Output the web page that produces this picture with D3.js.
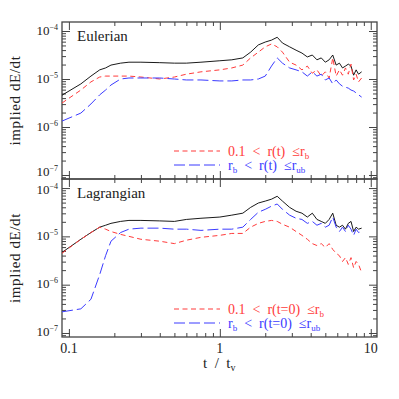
<!DOCTYPE html>
<html>
<head>
<meta charset="utf-8">
<script src="https://cdn.jsdelivr.net/npm/d3@7"></script>
<style>
  body { margin: 0; background: #fff; }
  text { font-family: "Liberation Serif", "DejaVu Serif", serif; white-space: pre; }
</style>
</head>
<body>
<div id="chart"></div>
<script>
// time in units of t_v
const times = [0.09, 0.12, 0.14, 0.16, 0.175, 0.19, 0.22, 0.25, 0.3, 0.4, 0.5, 0.6, 0.75,
  1.0, 1.2, 1.42, 1.6, 1.8, 2.0, 2.2, 2.4, 2.6, 2.9, 3.2, 3.5, 3.8, 4.1, 4.4, 4.7,
  5.0, 5.3, 5.6, 5.9, 6.2, 6.5, 6.8, 7.1, 7.4, 7.7, 8.0, 8.3, 8.7];

// Eulerian panel
const eulTotal = [4.6e-6, 7.9e-6, 1.15e-5, 1.55e-5, 1.7e-5, 1.95e-5, 2.14e-5, 2.24e-5, 2.24e-5, 2.19e-5, 2.14e-5, 2.14e-5, 2.24e-5,
  2.4e-5, 2.51e-5, 2.75e-5, 3.63e-5, 5.13e-5, 5.89e-5, 6.46e-5, 7.41e-5, 5.62e-5, 4.68e-5, 3.98e-5, 3.47e-5, 2.88e-5, 3.16e-5, 2.51e-5, 2.75e-5,
  2.24e-5, 2.51e-5, 3.16e-5, 1.95e-5, 2.14e-5, 1.7e-5, 1.86e-5, 2.04e-5, 1.86e-5, 1.2e-5, 1.55e-5, 1.26e-5, 1.41e-5];
const eulInner = [3.16e-6, 5.89e-6, 8.71e-6, 1.1e-5, 1.15e-5, 1.15e-5, 1.15e-5, 1.15e-5, 1.1e-5, 1.0e-5, 1.1e-5, 1.26e-5, 1.41e-5,
  1.55e-5, 1.7e-5, 1.95e-5, 2.75e-5, 3.63e-5, 4.68e-5, 5.37e-5, 4.68e-5, 3.63e-5, 2.24e-5, 1.95e-5, 1.55e-5, 1.86e-5, 1.32e-5, 1.55e-5, 1.15e-5,
  1.41e-5, 1.05e-5, 2.75e-5, 1.15e-5, 1.55e-5, 1.2e-5, 1.7e-5, 1.26e-5, 2.04e-5, 9.55e-6, 1.26e-5, 8.71e-6, 1.05e-5];
const eulOuter = [1.33e-6, 1.95e-6, 3.02e-6, 4.68e-6, 5.89e-6, 7.5e-6, 1.0e-5, 1.05e-5, 1.05e-5, 1.05e-5, 1.0e-5, 9.55e-6, 9.55e-6,
  9.12e-6, 9.12e-6, 9.55e-6, 9.55e-6, 1.0e-5, 1.15e-5, 1.86e-5, 2.75e-5, 2.14e-5, 1.7e-5, 1.55e-5, 1.41e-5, 1.15e-5, 1.41e-5, 1.15e-5, 1.26e-5,
  9.55e-6, 1.05e-5, 7.94e-6, 9.55e-6, 7.94e-6, 7.08e-6, 6.76e-6, 6.46e-6, 5.89e-6, 5.62e-6, 5.13e-6, 4.68e-6, 4.2e-6];

// Lagrangian panel
const lagTotal = [4.65e-6, 8.71e-6, 1.2e-5, 1.55e-5, 1.7e-5, 1.86e-5, 2.04e-5, 2.14e-5, 2.14e-5, 2.09e-5, 2.04e-5, 2.24e-5, 2.37e-5,
  2.51e-5, 2.75e-5, 3.02e-5, 3.98e-5, 4.9e-5, 5.37e-5, 5.89e-5, 6.76e-5, 5.37e-5, 3.98e-5, 3.31e-5, 3.02e-5, 2.51e-5, 3.02e-5, 2.24e-5, 2.04e-5,
  1.86e-5, 2.24e-5, 3.02e-5, 1.7e-5, 1.55e-5, 1.7e-5, 1.41e-5, 1.86e-5, 2.04e-5, 1.26e-5, 1.55e-5, 1.41e-5, 1.48e-5];
const lagInner = [4.47e-6, 8.71e-6, 1.2e-5, 1.55e-5, 1.41e-5, 1.26e-5, 1.1e-5, 1.0e-5, 8.71e-6, 7.94e-6, 7.08e-6, 8.32e-6, 9.55e-6,
  1.05e-5, 1.15e-5, 1.15e-5, 1.55e-5, 1.86e-5, 2.04e-5, 2.14e-5, 2.04e-5, 1.78e-5, 1.55e-5, 1.26e-5, 1.05e-5, 8.71e-6, 7.08e-6, 6.46e-6, 7.08e-6,
  5.89e-6, 7.08e-6, 5.37e-6, 4.47e-6, 3.98e-6, 3.02e-6, 3.63e-6, 2.63e-6, 3.63e-6, 2.24e-6, 3.02e-6, 2.63e-6, 1.78e-6];
const lagOuter = [2.74e-7, 3.16e-7, 5.0e-7, 1.62e-6, 3.98e-6, 7.94e-6, 1.2e-5, 1.41e-5, 1.48e-5, 1.48e-5, 1.41e-5, 1.41e-5, 1.33e-5,
  1.41e-5, 1.41e-5, 1.55e-5, 2.24e-5, 3.16e-5, 3.63e-5, 4.22e-5, 4.68e-5, 3.63e-5, 2.75e-5, 2.37e-5, 2.24e-5, 1.86e-5, 2.04e-5, 1.7e-5, 1.86e-5,
  1.55e-5, 1.7e-5, 2.51e-5, 1.55e-5, 1.26e-5, 1.55e-5, 1.26e-5, 1.7e-5, 1.41e-5, 1.05e-5, 1.41e-5, 1.2e-5, 1.26e-5];

const xMajor = [0.1, 1, 10];
const xTickLabels = ["0.1", "1", "10"];
const yMajor = [1e-7, 1e-6, 1e-5, 1e-4];
const yExponents = ["\u22127", "\u22126", "\u22125", "\u22124"];

const W = 399, H = 399;
const left = 62, right = 377;

const svg = d3.select("#chart").append("svg")
  .attr("width", W)
  .attr("height", H);

const x = d3.scaleLog().domain([0.09, 11]).range([left, right]);

const xMinor = [];
[0.1, 1].forEach(d => { for (let k = 2; k <= 9; k++) xMinor.push(d * k); });
const yMinor = [];
[1e-8, 1e-7, 1e-6, 1e-5].forEach(d => { for (let k = 2; k <= 9; k++) yMinor.push(d * k); });

const panels = [
  { name: "Eulerian", top: 22, bottom: 179, total: eulTotal, inner: eulInner, outer: eulOuter,
    innerLabel: "r(t)" , legendY: 151 },
  { name: "Lagrangian", top: 179, bottom: 337, total: lagTotal, inner: lagInner, outer: lagOuter,
    innerLabel: "r(t=0)", legendY: 309 }
];

const frameColor = "#444";
const red = "#ff3b3b", blue = "#3b3bff";

panels.forEach((p, pi) => {
  const y = d3.scaleLog().domain([8.26e-8, 1.54e-4]).range([p.bottom, p.top]);
  const g = svg.append("g");

  // ticks, pointing inward on all four sides
  const tickSets = [
    [d3.axisBottom(x), p.bottom, "x", xMajor, xMinor],
    [d3.axisTop(x), p.top, "x", xMajor, xMinor],
    [d3.axisLeft(y), left, "y", yMajor, yMinor],
    [d3.axisRight(y), right, "y", yMajor, yMinor]
  ];
  tickSets.forEach(([axis, pos, dir, major, minor]) => {
    [[major, 8], [minor, 4]].forEach(([vals, len]) => {
      const a = g.append("g")
        .attr("transform", dir === "x" ? `translate(0,${pos})` : `translate(${pos},0)`)
        .call(axis.tickValues(vals.filter(v => dir === "x" ? v >= 0.09 && v <= 11 : v >= 8.26e-8 && v <= 1.54e-4))
          .tickSize(-len).tickFormat(""));
      a.select(".domain").remove();
      a.selectAll("line").attr("stroke", frameColor).attr("stroke-width", 1);
    });
  });

  g.append("rect")
    .attr("x", left).attr("y", p.top)
    .attr("width", right - left).attr("height", p.bottom - p.top)
    .attr("fill", "none")
    .attr("stroke", frameColor)
    .attr("stroke-width", 1.3);

  // y tick labels 10^-n; the ones at the shared edge are nudged apart
  yMajor.forEach((v, i) => {
    let shift = 3.5;
    if (pi === 0 && i === 0) shift = 1;
    if (pi === 1 && i === 3) shift = 6;
    const t = g.append("text")
      .attr("x", 58)
      .attr("y", y(v) + shift)
      .attr("text-anchor", "end")
      .style("font-size", "13px")
      .attr("fill", "#222");
    t.append("tspan").text("10");
    t.append("tspan").attr("dy", -5).style("font-size", "8px").text(yExponents[i]);
  });

  // curves
  const line = d3.line()
    .x((d, i) => x(times[i]))
    .y(d => y(d));

  g.append("path").datum(p.total)
    .attr("d", line).attr("fill", "none")
    .attr("stroke", "#000").attr("stroke-width", 0.9);
  g.append("path").datum(p.inner)
    .attr("d", line).attr("fill", "none")
    .attr("stroke", red).attr("stroke-width", 1)
    .attr("stroke-dasharray", "5,3.5");
  g.append("path").datum(p.outer)
    .attr("d", line).attr("fill", "none")
    .attr("stroke", blue).attr("stroke-width", 1)
    .attr("stroke-dasharray", "11,4");

  // panel name
  g.append("text")
    .attr("x", 77).attr("y", p.top + 19)
    .style("font-size", "15px")
    .attr("fill", "#222")
    .text(p.name);

  // legend
  g.append("line")
    .attr("x1", 174).attr("x2", 220)
    .attr("y1", p.legendY).attr("y2", p.legendY)
    .attr("stroke", red).attr("stroke-dasharray", "5,3.5");
  g.append("line")
    .attr("x1", 174).attr("x2", 220)
    .attr("y1", p.legendY + 14).attr("y2", p.legendY + 14)
    .attr("stroke", blue).attr("stroke-dasharray", "11,4");

  const t1 = g.append("text")
    .attr("x", 228).attr("y", p.legendY + 5)
    .style("font-size", "14px").attr("fill", red);
  t1.append("tspan").text(`0.1  <  ${p.innerLabel}  \u2264r`);
  t1.append("tspan").attr("dy", 3).style("font-size", "9px").text("b");

  const t2 = g.append("text")
    .attr("x", 228).attr("y", p.legendY + 19)
    .style("font-size", "14px").attr("fill", blue);
  t2.append("tspan").text("r");
  t2.append("tspan").attr("dy", 3).style("font-size", "9px").text("b");
  t2.append("tspan").attr("dy", -3).text(`  <  ${p.innerLabel}  \u2264r`);
  t2.append("tspan").attr("dy", 3).style("font-size", "9px").text("ub");

  // y axis title
  g.append("text")
    .attr("transform", `translate(20,${(p.top + p.bottom) / 2}) rotate(-90)`)
    .attr("text-anchor", "middle")
    .style("font-size", "15px")
    .style("letter-spacing", "0.6px")
    .attr("fill", "#222")
    .text("implied dE/dt");
});

// x tick labels
xMajor.forEach((v, i) => {
  svg.append("text")
    .attr("x", x(v))
    .attr("y", 353)
    .attr("text-anchor", "middle")
    .style("font-size", "14px")
    .attr("fill", "#222")
    .text(xTickLabels[i]);
});

// x axis title
const xt = svg.append("text")
  .attr("x", 203).attr("y", 368)
  .style("font-size", "15px")
  .attr("fill", "#222");
xt.append("tspan").text("t  /  t");
xt.append("tspan").attr("dy", 3).style("font-size", "10px").text("v");
</script>
</body>
</html>
